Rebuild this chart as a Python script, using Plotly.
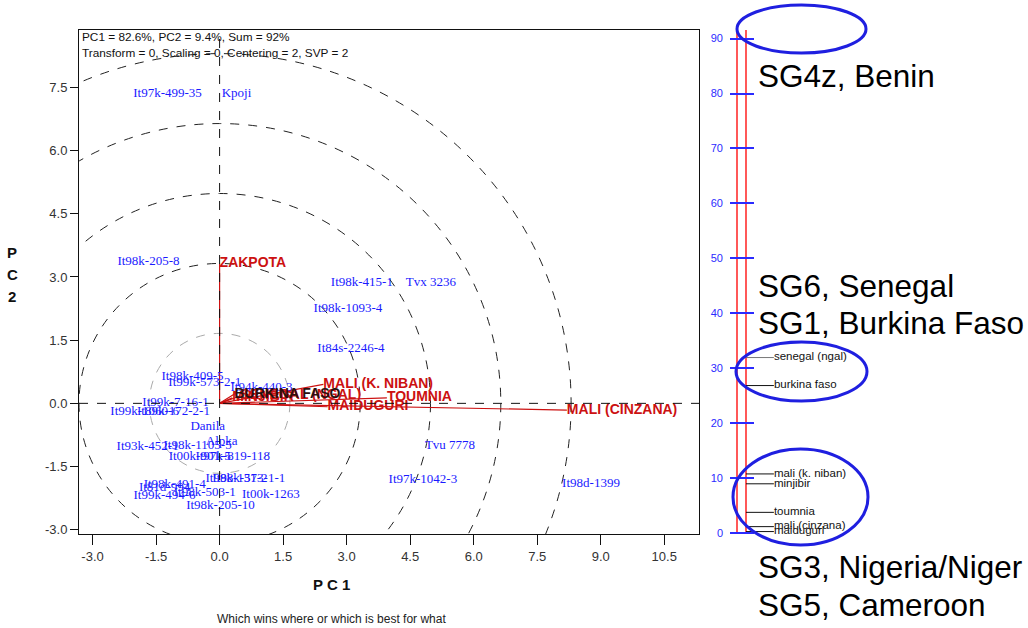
import plotly.graph_objects as go

W, H = 1028, 628
YK = 1.008  # small vertical compensation observed in the capture pipeline

# ---------------- data ----------------
GEN_NAMES = ["It97k-499-35", "Kpoji", "It98k-205-8", "It98k-415-1", "Tvx 3236",
             "It98k-1093-4", "It84s-2246-4", "It98k-409-5", "It99k-573-2-1", "It94k-440-3",
             "It99k-7-16-1", "It99k-1060-6", "It89k-172-2-1", "Danila", "Alpka",
             "It93k-452-1", "It98k-1105-5", "It00k-901-5", "It97k-819-118", "It98k-131-2",
             "It98k-573-1-1", "It81d-994", "It98k-503-1", "It99k-494-6", "It00k-1263",
             "It98k-205-10", "Tvu 7778", "It97k-1042-3", "It98d-1399", "It98k-491-4"]
GEN_PC1 = [-1.23, 0.40, -1.68, 3.36, 4.99,
           3.03, 3.10, -0.64, -0.35, 0.99,
           -1.04, -1.77, -1.09, -0.28, 0.05,
           -1.70, -0.52, -0.47, 0.31, 0.40,
           0.69, -1.30, -0.35, -1.30, 1.21,
           0.02, 5.44, 4.80, 8.77, -1.06]
GEN_PC2 = [7.35, 7.35, 3.36, 2.87, 2.87,
           2.25, 1.30, 0.64, 0.50, 0.36,
           0.02, -0.19, -0.19, -0.55, -0.90,
           -1.02, -1.00, -1.26, -1.26, -1.78,
           -1.80, -2.01, -2.11, -2.20, -2.18,
           -2.44, -1.00, -1.82, -1.90, -1.94]

ENV_NAMES = ["ZAKPOTA", "MALI (K. NIBAN)", "TOUMNIA", "MAIDUGURI", "MALI (CINZANA)",
             "SENEGAL (NGAL)", "MINJIBIR", "BURKINA FASO"]
ENV_PC1 = [0.0, 2.45, 3.95, 2.55, 8.20, 0.50, 0.30, 0.35]
ENV_PC2 = [3.32, 0.45, 0.13, -0.08, -0.16, 0.18, 0.13, 0.22]
ENV_COLORS = ["#cc1111"] * 7 + ["#2a1010"]

CIRCLE_RADII = [1.66, 3.32, 4.98, 6.64, 8.30]

X_TICKS = [-3.0, -1.5, 0.0, 1.5, 3.0, 4.5, 6.0, 7.5, 9.0, 10.5]
Y_TICKS = [-3.0, -1.5, 0.0, 1.5, 3.0, 4.5, 6.0, 7.5]

DENDRO_LABELS = ["zakpota", "senegal (ngal)", "burkina faso", "mali (k. niban)",
                 "minjibir", "toumnia", "mali (cinzana)", "maidugurl"]
DENDRO_VALUES = [91.7, 31.9, 26.8, 10.7, 8.9, 3.7, 1.1, 0.2]
DENDRO_LINE_COLORS = ["#111111", "#777777", "#111111", "#111111",
                      "#111111", "#111111", "#111111", "#111111"]
DENDRO_TICKS = [0, 10, 20, 30, 40, 50, 60, 70, 80, 90]

GROUP_LABELS = ["SG4z, Benin", "SG6, Senegal", "SG1, Burkina Faso",
                "SG3, Nigeria/Niger", "SG5, Cameroon"]

HEADER = ["PC1 = 82.6%, PC2 = 9.4%, Sum = 92%",
          "Transform = 0, Scaling = 0, Centering = 2, SVP = 2"]

# ---------------- helpers ----------------
def px(x):
    return x / W

def py(y):
    return 1 - (y * YK) / H

SANS = "Liberation Sans, Arial, sans-serif"
SERIF = "Liberation Serif, Times New Roman, serif"

fig = go.Figure()

# environment vectors
vx, vy = [], []
for x, y in zip(ENV_PC1, ENV_PC2):
    vx += [0, x, None]
    vy += [0, y, None]
fig.add_trace(go.Scatter(x=vx, y=vy, mode="lines", line=dict(color="#cc1111", width=1.2),
                         hoverinfo="skip", showlegend=False))

# genotype labels
fig.add_trace(go.Scatter(x=GEN_PC1, y=GEN_PC2, mode="text", text=GEN_NAMES,
                         textposition="middle center",
                         textfont=dict(family=SERIF, size=13, color="#1a1aff"),
                         showlegend=False, cliponaxis=False))

# environment labels (bold)
fig.add_trace(go.Scatter(x=ENV_PC1, y=ENV_PC2, mode="text",
                         text=["<b>%s</b>" % n for n in ENV_NAMES],
                         textposition="middle right",
                         textfont=dict(family=SANS, size=14, color=ENV_COLORS),
                         showlegend=False, cliponaxis=False))

# ---- dendrogram panel ----
top = max(DENDRO_VALUES)
fig.add_trace(go.Scatter(x=[0, 1, 1, 0, 0], y=[0, 0, top, top, 0], mode="lines",
                         line=dict(color="#ff0000", width=1.3), xaxis="x2", yaxis="y2",
                         showlegend=False, hoverinfo="skip", cliponaxis=False))
for v, c in zip(DENDRO_VALUES, DENDRO_LINE_COLORS):
    fig.add_trace(go.Scatter(x=[1, 4.1], y=[v, v], mode="lines", line=dict(color=c, width=1),
                             xaxis="x2", yaxis="y2", showlegend=False, hoverinfo="skip",
                             cliponaxis=False))
fig.add_trace(go.Scatter(x=[4.1] * len(DENDRO_VALUES), y=DENDRO_VALUES, mode="text",
                         text=DENDRO_LABELS, textposition="middle right",
                         textfont=dict(family=SANS, size=11.5, color="#111111"),
                         xaxis="x2", yaxis="y2", showlegend=False, cliponaxis=False))

# ---------------- shapes ----------------
shapes = []
for i, r in enumerate(CIRCLE_RADII):
    shapes.append(dict(type="circle", xref="x", yref="y", x0=-r, x1=r, y0=-r, y1=r,
                       line=dict(color="#aaaaaa" if i == 0 else "#222222", width=1,
                                 dash="dash"), layer="below"))
shapes.append(dict(type="line", xref="paper", yref="y", x0=px(79), x1=px(699), y0=0, y1=0,
                   line=dict(color="#111111", width=1, dash="dash")))
shapes.append(dict(type="line", xref="x", yref="paper", x0=0, x1=0, y0=py(534), y1=py(30),
                   line=dict(color="#111111", width=1, dash="dash")))
# blue ellipses (highlighting groups)
for (x0, x1, y0, y1) in [(737, 866, 5, 53), (736, 867, 342, 401), (733, 868, 449, 545)]:
    shapes.append(dict(type="circle", xref="paper", yref="paper", x0=px(x0), x1=px(x1),
                       y0=py(y1), y1=py(y0), line=dict(color="#1f1fe0", width=3)))

# ---------------- annotations ----------------
ann = []
for i, t in enumerate(HEADER):
    ann.append(dict(text=t, xref="paper", yref="paper", x=px(80), y=py(37 + 16 * i),
                    xanchor="left", yanchor="middle", showarrow=False,
                    font=dict(family=SANS, size=11.8, color="#111111")))
for i, ch in enumerate(["P", "C", "2"]):
    ann.append(dict(text="<b>%s</b>" % ch, xref="paper", yref="paper", x=px(12),
                    y=py(253 + 22 * i), xanchor="center", yanchor="middle", showarrow=False,
                    font=dict(family=SANS, size=15, color="#111111")))
ann.append(dict(text="<b>P C 1</b>", xref="paper", yref="paper", x=px(331), y=py(585),
                xanchor="center", yanchor="middle", showarrow=False,
                font=dict(family=SANS, size=15, color="#111111")))
ann.append(dict(text="Which wins where or which is best for what", xref="paper", yref="paper",
                x=px(331), y=py(619), xanchor="center", yanchor="middle", showarrow=False,
                font=dict(family=SANS, size=12, color="#222222")))
for t, yy in zip(GROUP_LABELS, [76, 286, 323, 567, 605]):
    ann.append(dict(text=t, xref="paper", yref="paper", x=px(756), y=py(yy),
                    xanchor="left", yanchor="middle", showarrow=False,
                    font=dict(family=SANS, size=31.5, color="#000000")))

fig.update_layout(
    width=W, height=H, margin=dict(l=0, r=0, t=0, b=0),
    paper_bgcolor="white", plot_bgcolor="white", showlegend=False,
    xaxis=dict(domain=[px(79), px(699)], range=[-3.32, 11.32], tickvals=X_TICKS,
               ticktext=["%.1f" % v for v in X_TICKS], ticks="outside", ticklen=10,
               tickcolor="#111111", showline=True, mirror=True, linecolor="#111111",
               showgrid=False, zeroline=False,
               tickfont=dict(family=SANS, size=13, color="#333333")),
    yaxis=dict(domain=[py(534), py(30)], range=[-3.1, 8.86], tickvals=Y_TICKS,
               ticktext=["%.1f" % v for v in Y_TICKS], ticks="outside", ticklen=8,
               tickcolor="#111111", showline=True, mirror=True, linecolor="#111111",
               showgrid=False, zeroline=False,
               tickfont=dict(family=SANS, size=13, color="#333333")),
    xaxis2=dict(domain=[px(729), px(889)], range=[-0.889, 16.889], visible=False,
                anchor="y2"),
    yaxis2=dict(domain=[py(534), py(30)], range=[-0.24, 91.57], anchor="free",
                position=px(729), side="left", ticks="inside", ticklen=24,
                tickcolor="#2b2bff", tickwidth=1.5, tickvals=DENDRO_TICKS,
                showline=False, showgrid=False, zeroline=False, ticklabelstandoff=6,
                tickfont=dict(family=SANS, size=11, color="#2b2bff")),
    shapes=shapes, annotations=ann,
)

fig.write_html(
    "out.html",
    config={"displayModeBar": False},
    post_script=(
        "var h=document.documentElement, b=document.body;"
        "h.style.margin='0'; h.style.padding='0'; h.style.overflow='hidden';"
        "b.style.margin='0'; b.style.padding='0'; b.style.overflow='hidden';"
    ),
)
